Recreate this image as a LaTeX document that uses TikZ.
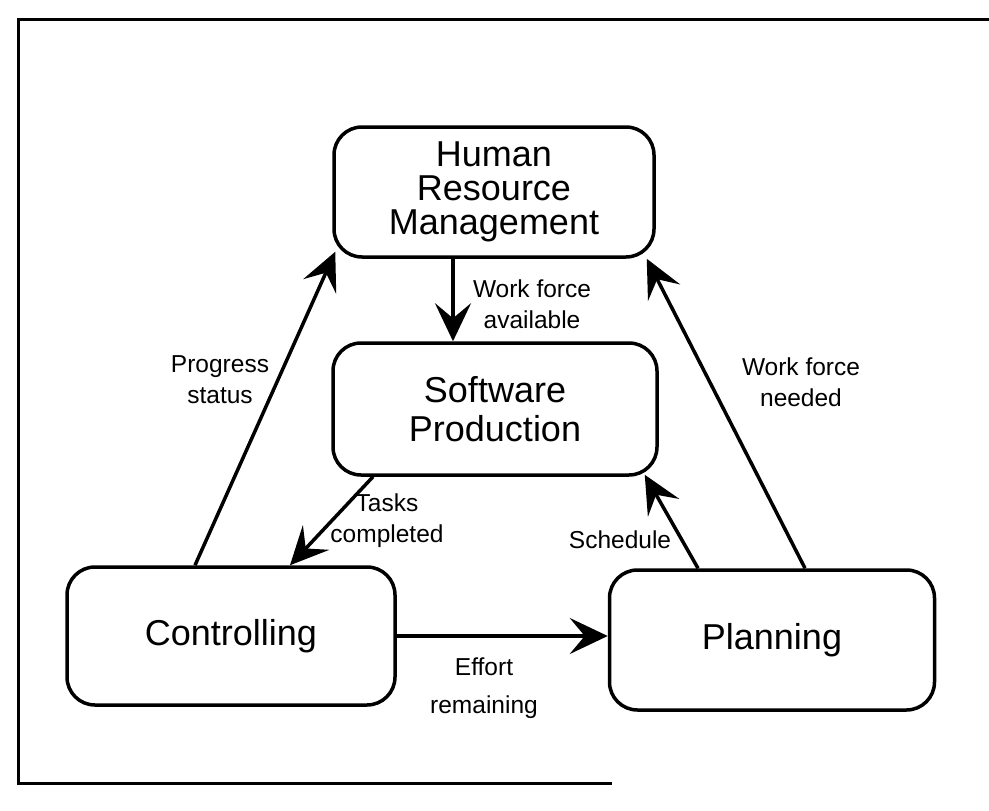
\documentclass[tikz,border=0pt]{standalone}
\usepackage{fontspec}
\setmainfont{Liberation Sans}
\usetikzlibrary{arrows.meta}

\begin{document}
\begin{tikzpicture}[x=1pt,y=-1pt,
    box/.style={draw, line width=3.5pt, rounded corners=28pt, align=center, inner sep=0pt,
        font=\fontsize{36}{34}\selectfont},
    flow/.style={line width=3.5pt, -{Stealth[length=38pt,width=36pt,inset=15pt]}},
    lbl/.style={align=center, font=\fontsize{24.5}{31}\selectfont}]
    \useasboundingbox (0,0) rectangle (989,811);

    % frame of the scanned page
    \draw[line width=3pt] (989,19) -- (18,19) -- (18,783) -- (612,783);

    \node[box, minimum width=320pt, minimum height=130pt] (hrm) at (494,192) {Human\\Resource\\Management};
    \node[box, minimum width=324pt, minimum height=132pt, font=\fontsize{36}{39}\selectfont] (sp) at (495,409) {Software\\Production};
    \node[box, minimum width=328pt, minimum height=138pt] (ctrl) at (231,636) {Controlling};
    \node[box, minimum width=325pt, minimum height=140pt] (plan) at (772,640) {Planning};

    \draw[flow] ([xshift=-41pt]hrm.south) -- ([xshift=-42pt]sp.north);
    \draw[flow] ([xshift=-122pt]sp.south) -- ([xshift=59pt]ctrl.north);
    \draw[flow] ([xshift=-36pt]ctrl.north) -- ([xshift=3pt,yshift=7pt]hrm.south west);
    \draw[flow] ([xshift=-74pt]plan.north) -- ([xshift=-14pt,yshift=2pt]sp.south east);
    \draw[flow] ([xshift=33pt]plan.north) -- ([xshift=-9pt]hrm.south east);
    \draw[flow] (ctrl.east) -- (ctrl.east -| plan.west);

    \node[lbl] (wfa) at (532,304) {Work force\\available};
    \node[lbl] (ps) at (220,380) {Progress\\status};
    \node[lbl] (wfn) at (801,382) {Work force\\needed};
    \node[lbl] (tc) at (387,521) {Tasks\\completed};
    \node[lbl] (sch) at (620,540) {Schedule};
    \node[lbl, font=\fontsize{24.5}{38}\selectfont] (er) at (484,688) {Effort\\remaining};

\end{tikzpicture}
\end{document}
